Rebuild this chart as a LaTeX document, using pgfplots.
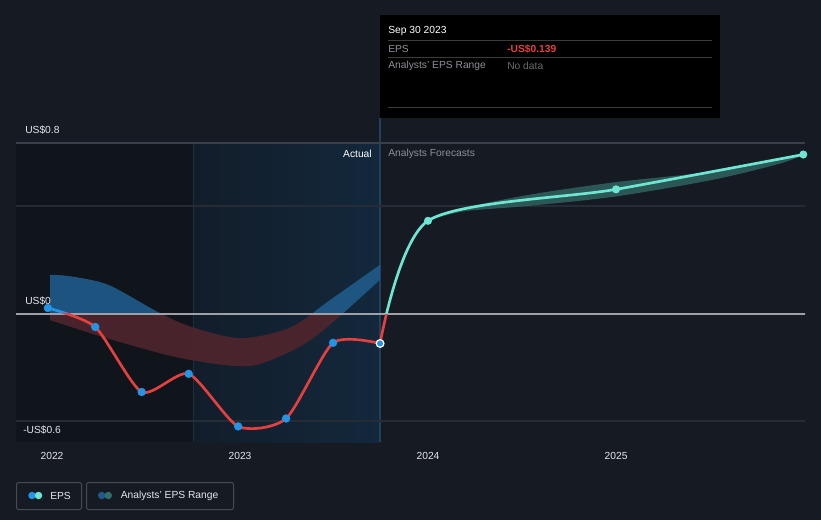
\documentclass[border=0pt]{standalone}
\usepackage{pgfplots}
\pgfplotsset{compat=1.18}
\usepgfplotslibrary{fillbetween}
\usepackage{fontspec}
\setmainfont{Liberation Sans}
\tikzset{fill between/on layer=main}
\definecolor{bgc}{HTML}{151A23}
\definecolor{leftc}{HTML}{10141B}
\definecolor{bluel}{HTML}{121D2A}
\definecolor{bluer}{HTML}{13283C}
\definecolor{gridc}{HTML}{262C36}
\definecolor{topc}{HTML}{3A404A}
\definecolor{axisc}{HTML}{4A505A}
\definecolor{zeroc}{HTML}{9EA2A8}
\definecolor{bandblue}{HTML}{1F5A88}
\definecolor{bandred}{HTML}{4E252D}
\definecolor{fband}{HTML}{2F5E5D}
\definecolor{epsred}{HTML}{E4403F}
\definecolor{epsblue}{HTML}{2394E6}
\definecolor{tealc}{HTML}{6EE6D2}
\definecolor{labc}{HTML}{E4E6EA}
\definecolor{grayt}{HTML}{8C9097}
\definecolor{vline1}{HTML}{1C2F42}
\definecolor{vline2}{HTML}{22405E}
\definecolor{ttline}{HTML}{3C3C3C}
\definecolor{nodata}{HTML}{6A6A6A}
\definecolor{legbox}{HTML}{454B55}
\definecolor{legb1}{HTML}{1F5A8A}
\definecolor{legb2}{HTML}{2F6E6C}
\newcommand\fs{\fontsize{7.7pt}{9pt}\selectfont}
\begin{document}
\begin{tikzpicture}[x=0.75pt,y=-0.75pt]
\fill[bgc] (0,0) rectangle (821,520);
\fill[leftc] (16,143) rectangle (193,442);
\shade[left color=bluel, right color=bluer] (193,143) rectangle (380,442);
\draw[color=vline1, line width=0.75pt] (193,143) -- (193,442);
\draw[color=vline2, line width=0.9pt] (380,118) -- (380,442);
\draw[topc, line width=0.9pt] (16,143) -- (805,143);
\draw[gridc, line width=0.9pt] (16,206) -- (805,206);
\draw[gridc, line width=0.9pt] (16,421) -- (805,421);
\begin{axis}[
  at={(12pt,-331.5pt)}, anchor=south west,
  scale only axis, width=591.75pt, height=224.4375pt,
  xmin=2021.8085, xmax=2026.005, ymin=-0.6, ymax=0.8,
  hide y axis,
  axis x line*=bottom,
  x axis line style={draw=axisc, line width=0.9pt, -},
  xtick={2022,2023,2024,2025},
  xticklabels={2022,2023,2024,2025},
  xtick style={draw=axisc, line width=0.75pt},
  tick align=outside, major tick length=3.5pt,
  x tick label style={font=\fs, text=labc, yshift=-1pt},
  clip=true,
]
% historical estimate band
\addplot[name path=bu, draw=none, smooth] coordinates {
 (2021.99,0.182) (2022.10,0.175) (2022.30,0.135) (2022.557,0.011) (2022.734,-0.059)
 (2023.0,-0.114) (2023.266,-0.065) (2023.48,0.065) (2023.745,0.229)};
\addplot[name path=bl, draw=none, smooth] coordinates {
 (2021.99,-0.03) (2022.29,-0.114) (2022.645,-0.2) (2022.911,-0.239) (2023.089,-0.239)
 (2023.32,-0.153) (2023.48,-0.05) (2023.745,0.159)};
\begin{scope}
\clip (axis cs:2021.5,0) rectangle (axis cs:2024.5,1);
\addplot[fill=bandblue, fill opacity=0.92, draw=none] fill between[of=bu and bl];
\end{scope}
\begin{scope}
\clip (axis cs:2021.5,-1) rectangle (axis cs:2024.5,0);
\addplot[fill=bandred, fill opacity=0.92, draw=none] fill between[of=bu and bl];
\end{scope}
% forecast band
\addplot[name path=fu, draw=none, smooth] coordinates {
 (2024.0,0.435) (2024.19,0.494) (2024.54,0.557) (2025.0,0.616) (2025.516,0.666) (2025.87,0.728) (2026.0,0.745)};
\addplot[name path=fl, draw=none, smooth] coordinates {
 (2024.0,0.435) (2024.19,0.479) (2024.54,0.505) (2025.0,0.549) (2025.516,0.627) (2025.87,0.702) (2026.0,0.745)};
\addplot[fill=fband, fill opacity=0.9, draw=none] fill between[of=fu and fl];
% zero line
\draw[zeroc, line width=1.2pt] (axis cs:2021.5,0) -- (axis cs:2026.5,0);
% EPS lines, coloured by sign
\begin{scope}
\clip (axis cs:2021.5,0) rectangle (axis cs:2023.0,1);
\addplot[smooth, tension=0.4, line width=2pt, color=epsblue] coordinates {
 (2021.978,0.027) (2022.23,-0.062) (2022.477,-0.366) (2022.727,-0.281) (2022.99,-0.527)
 (2023.245,-0.49) (2023.495,-0.136) (2023.745,-0.139)};
\end{scope}
\begin{scope}
\clip (axis cs:2021.5,0) rectangle (axis cs:2026.5,-1);
\addplot[smooth, tension=0.4, line width=2pt, color=epsred] coordinates {
 (2021.978,0.027) (2022.23,-0.062) (2022.477,-0.366) (2022.727,-0.281) (2022.99,-0.527)
 (2023.245,-0.49) (2023.495,-0.136) (2023.745,-0.139)};
\addplot[smooth, tension=0.45, line width=2pt, color=epsred] coordinates {
 (2023.745,-0.139) (2024.0,0.435) (2025.0,0.582) (2025.996,0.745)};
\end{scope}
\begin{scope}
\clip (axis cs:2023.0,0) rectangle (axis cs:2026.5,1);
\addplot[smooth, tension=0.45, line width=2pt, color=tealc] coordinates {
 (2023.745,-0.139) (2024.0,0.435) (2025.0,0.582) (2025.996,0.745)};
\end{scope}
% dots
\addplot[only marks, mark=*, mark size=2.9pt, color=epsblue] coordinates {
 (2021.978,0.027) (2022.23,-0.062) (2022.477,-0.366) (2022.727,-0.281) (2022.99,-0.527)
 (2023.245,-0.49) (2023.495,-0.136)};
\addplot[only marks, mark=*, mark size=2.9pt, mark options={fill=epsblue, draw=white, line width=0.9pt}] coordinates {
 (2023.745,-0.139)};
\addplot[only marks, mark=*, mark size=2.8pt, color=tealc] coordinates {
 (2024.0,0.435) (2025.0,0.582) (2025.996,0.745)};
\end{axis}
% y labels
\node[anchor=west, text=labc, font=\fs, inner sep=0pt] at (25,130) {US\$0.8};
\node[anchor=west, text=labc, font=\fs, inner sep=0pt] at (25,301) {US\$0};
\node[anchor=west, text=labc, font=\fs, inner sep=0pt] at (23,430) {-US\$0.6};
\node[anchor=east, text=white, font=\fs, inner sep=0pt] at (372,154) {Actual};
\node[anchor=west, text=grayt, font=\fs, inner sep=0pt] at (388,154) {Analysts Forecasts};
% tooltip
\fill[black] (380,15) rectangle (720,118);
\draw[ttline, line width=0.75pt] (388,41) -- (712,41);
\draw[ttline, line width=0.75pt] (388,58) -- (712,58);
\draw[ttline, line width=0.75pt] (388,108) -- (712,108);
\node[anchor=west, text=white, font=\fs, inner sep=0pt] at (388,31) {Sep 30 2023};
\node[anchor=west, text=grayt, font=\fs, inner sep=0pt] at (388,49) {EPS};
\node[anchor=west, text=epsred, font=\fs\bfseries, inner sep=0pt] at (507,49) {-US\$0.139};
\node[anchor=west, text=grayt, font=\fs, inner sep=0pt] at (388,66) {Analysts' EPS Range};
\node[anchor=west, text=nodata, font=\fs, inner sep=0pt] at (507,66) {No data};
% legend
\draw[legbox, line width=0.75pt, rounded corners=1.5pt] (16.5,482.5) rectangle (81.5,509.5);
\fill[epsblue] (32,495.5) circle (3.75);
\fill[tealc] (38.5,495.5) circle (3.75);
\node[anchor=west, text=labc, font=\fs, inner sep=0pt] at (50,495.5) {EPS};
\draw[legbox, line width=0.75pt, rounded corners=1.5pt] (86.5,482.5) rectangle (233.5,509.5);
\fill[legb1] (101.7,495.5) circle (3.75);
\fill[legb2] (108.3,495.5) circle (3.75);
\node[anchor=west, text=labc, font=\fs, inner sep=0pt] at (120.5,495.5) {Analysts' EPS Range};
\end{tikzpicture}
\end{document}
